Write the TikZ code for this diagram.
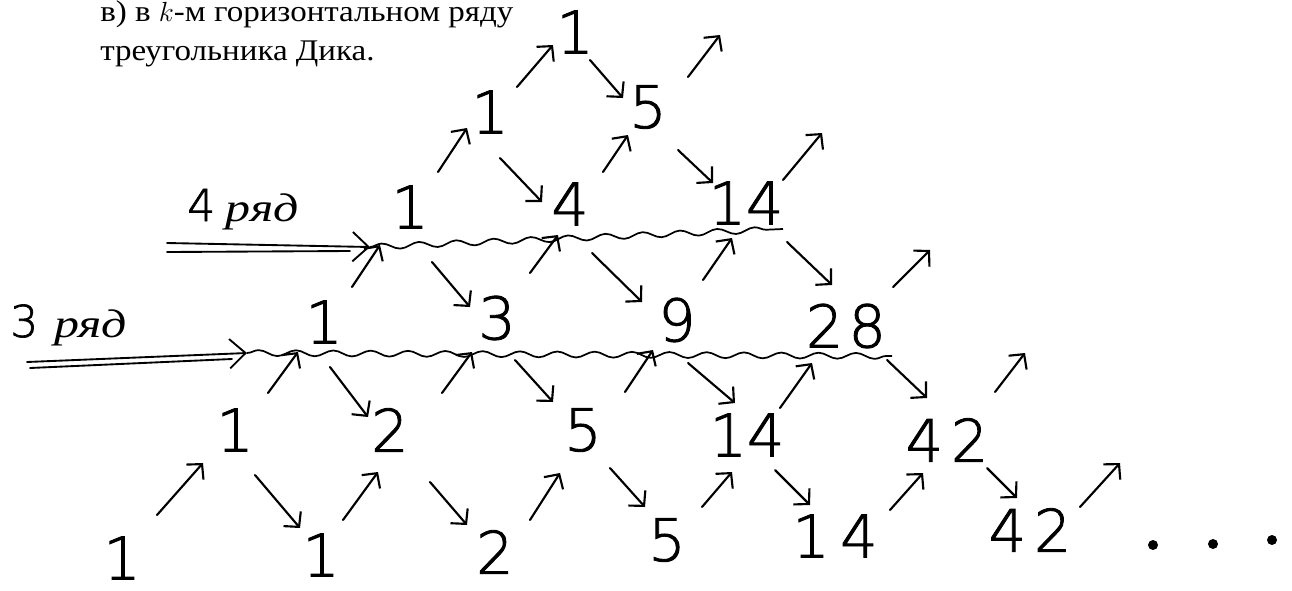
\documentclass[tikz,border=0pt]{standalone}
\usepackage{fontspec}
\setmainfont{Liberation Serif}
\usetikzlibrary{arrows.meta,decorations.pathmorphing}
\IfFontExistsTF{DejaVu Sans ExtraLight}%
  {\newfontfamily\hand{DejaVu Sans ExtraLight}[FakeBold=1.5]}%
  {\newfontfamily\hand{DejaVu Sans}}
\newfontfamily\headfont{Liberation Serif}[FakeStretch=1.1]
\newfontfamily\cursive{Liberation Serif}[FakeStretch=1.25]
\begin{document}
\begin{tikzpicture}[x=0.75pt,y=-0.75pt,
  num/.style={font=\hand\fontsize{44}{44}\selectfont, inner sep=0pt},
  head/.style={font=\headfont\fontsize{22.5}{22.5}\selectfont, inner sep=0pt, anchor=base west},
  lab/.style={inner sep=0pt, anchor=base west},
  arr/.style={line width=1.6pt, line cap=round, line join=round,
    -{Straight Barb[length=8pt,width=17pt,line width=1.6pt]}},
  dbl/.style={line width=1.4pt, line cap=round},
  dblarr/.style={dbl, -{Straight Barb[length=12pt,width=22pt,line width=1.4pt]}},
  wavy/.style={line width=1.3pt, decorate,
    decoration={snake, amplitude=2.2pt, segment length=28pt}},
  dot/.style={circle, fill, inner sep=0pt, minimum size=7.5pt}]
\useasboundingbox (0,0) rectangle (1292,590);

% heading
\node[head] (h1) at (100,21) {в) в $k$-м горизонтальном ряду};
\node[head] (h2) at (100,60) {треугольника Дика.};

% numbers
\node[num] (a1) at (122,558) {1};
\node[num] (a2) at (321,555) {1};
\node[num] (a3) at (495,552) {2};
\node[num] (a4) at (667,540) {5};
\node[num] (a5) at (835,536) {1\kern8pt4};
\node[num] (a6) at (1030,530) {4\kern6pt2};
\node[num] (b1) at (235,430) {1};
\node[num] (b2) at (390,430) {2};
\node[num] (b3) at (583,430) {5};
\node[num] (b4) at (747,435) {14};
\node[num] (b5) at (947,440) {4\kern6pt2};
\node[num] (c1) at (324,322) {1};
\node[num] (c2) at (497,318) {3};
\node[num] (c3) at (677,320) {9};
\node[num] (c4) at (846,326) {2\kern4pt8};
\node[num] (d1) at (410,207) {1};
\node[num] (d2) at (570,204) {4};
\node[num] (d3) at (746,203) {14};
\node[num] (e1) at (490,112) {1};
\node[num] (e2) at (648,107) {5};
\node[num] (f1) at (575,32) {1};

\node[dot] (p1) at (1153,545) {};
\node[dot] (p2) at (1213,544) {};
\node[dot] (p3) at (1272,540) {};

\coordinate (q0) at (1120,463);
\coordinate (q1) at (1025,353);
\coordinate (q2) at (930,250);
\coordinate (q3) at (822,133);
\coordinate (q4) at (720,35);

% row labels
\node[lab] (l4) at (187,221) {{\hand\fontsize{33}{33}\selectfont 4}\kern8pt{\cursive\itshape\fontsize{30}{30}\selectfont ряд}};
\node[lab] (l3) at (10,337) {{\hand\fontsize{33}{33}\selectfont 3}\kern12pt{\cursive\itshape\fontsize{30}{30}\selectfont ряд}};

\coordinate (t4) at (370,247);
\coordinate (s4a) at (167,243);
\coordinate (s4b) at (167,252);
\coordinate (m4) at (350,251);
\coordinate (w4) at (783,229);
\coordinate (t3) at (247,353);
\coordinate (s3a) at (27,362);
\coordinate (s3b) at (30,368);
\coordinate (m3) at (232,359);
\coordinate (w3) at (892,356);

\draw[dblarr] (s4a) -- (t4);
\draw[dbl] (s4b) -- (m4);
\draw[dblarr] (s3a) -- (t3);
\draw[dbl] (s3b) -- (m3);
\draw[wavy] (t4) -- (w4);
\draw[wavy] (t3) -- (w3);

% arrows row 0 - row 1
\draw[arr] ([shift={(35,-43)}]a1.center) -- ([shift={(-32,33)}]b1.center);
\draw[arr] ([shift={(20,45)}]b1.center) -- ([shift={(-21,-27)}]a2.center);
\draw[arr] ([shift={(22,-35)}]a2.center) -- ([shift={(-12,42)}]b2.center);
\draw[arr] ([shift={(40,52)}]b2.center) -- ([shift={(-28,-27)}]a3.center);
\draw[arr] ([shift={(35,-32)}]a3.center) -- ([shift={(-23,43)}]b3.center);
\draw[arr] ([shift={(27,38)}]b3.center) -- ([shift={(-22,-33)}]a4.center);
\draw[arr] ([shift={(35,-33)}]a4.center) -- ([shift={(-15,37)}]b4.center);
\draw[arr] ([shift={(28,35)}]b4.center) -- ([shift={(-25,-31)}]a5.center);
\draw[arr] ([shift={(55,-26)}]a5.center) -- ([shift={(-24,33)}]b5.center);
\draw[arr] ([shift={(40,28)}]b5.center) -- ([shift={(-13,-32)}]a6.center);
\draw[arr] ([shift={(50,-23)}]a6.center) -- (q0);

% arrows row 1 - row 2
\draw[arr] ([shift={(33,-37)}]b1.center) -- ([shift={(-26,30)}]c1.center);
\draw[arr] ([shift={(6,45)}]c1.center) -- ([shift={(-22,-13)}]b2.center);
\draw[arr] ([shift={(52,-37)}]b2.center) -- ([shift={(-25,34)}]c2.center);
\draw[arr] ([shift={(18,42)}]c2.center) -- ([shift={(-30,-28)}]b3.center);
\draw[arr] ([shift={(42,-38)}]b3.center) -- ([shift={(-24,30)}]c3.center);
\draw[arr] ([shift={(11,43)}]c3.center) -- ([shift={(-12,-32)}]b4.center);
\draw[arr] ([shift={(33,-27)}]b4.center) -- ([shift={(-34,37)}]c4.center);
\draw[arr] ([shift={(41,34)}]c4.center) -- ([shift={(-20,-42)}]b5.center);
\draw[arr] ([shift={(48,-48)}]b5.center) -- (q1);

% arrows row 2 - row 3
\draw[arr] ([shift={(28,-35)}]c1.center) -- ([shift={(-30,38)}]d1.center);
\draw[arr] ([shift={(22,55)}]d1.center) -- ([shift={(-27,-11)}]c2.center);
\draw[arr] ([shift={(33,-45)}]c2.center) -- ([shift={(-12,31)}]d2.center);
\draw[arr] ([shift={(22,49)}]d2.center) -- ([shift={(-35,-18)}]c3.center);
\draw[arr] ([shift={(26,-40)}]c3.center) -- ([shift={(-14,35)}]d3.center);
\draw[arr] ([shift={(41,39)}]d3.center) -- ([shift={(-14,-41)}]c4.center);
\draw[arr] ([shift={(47,-39)}]c4.center) -- (q2);

% arrows row 3 - row 4
\draw[arr] ([shift={(28,-35)}]d1.center) -- ([shift={(-23,16)}]e1.center);
\draw[arr] ([shift={(10,46)}]e1.center) -- ([shift={(-28,-2)}]d2.center);
\draw[arr] ([shift={(33,-32)}]d2.center) -- ([shift={(-20,28)}]e2.center);
\draw[arr] ([shift={(30,43)}]e2.center) -- ([shift={(-33,-20)}]d3.center);
\draw[arr] ([shift={(37,-23)}]d3.center) -- (q3);

% arrows row 4 - row 5
\draw[arr] ([shift={(27,-25)}]e1.center) -- ([shift={(-22,13)}]f1.center);
\draw[arr] ([shift={(15,28)}]f1.center) -- ([shift={(-25,-9)}]e2.center);
\draw[arr] ([shift={(40,-30)}]e2.center) -- (q4);
\end{tikzpicture}
\end{document}
